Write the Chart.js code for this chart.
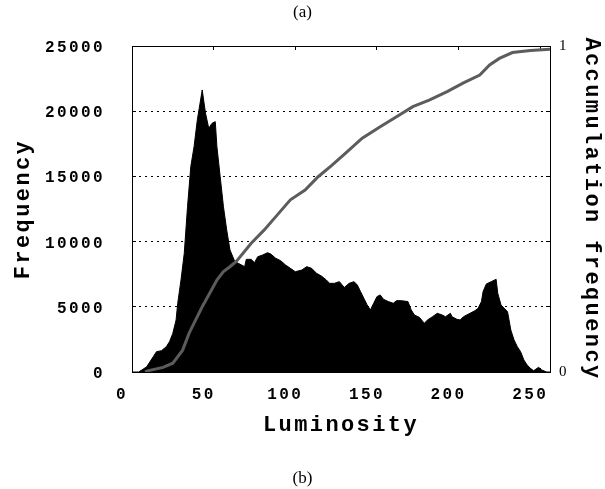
<!DOCTYPE html>
<html>
<head>
<meta charset="utf-8">
<script src="https://cdn.jsdelivr.net/npm/chart.js@4/dist/chart.umd.min.js"></script>
<style>
  html, body { margin: 0; padding: 0; background: #fff; }
  #wrap { position: relative; width: 605px; height: 489px; }
  .caption {
    position: absolute;
    left: 0;
    width: 605px;
    text-align: center;
    font: 17px "Liberation Serif", serif;
    line-height: 20px;
    color: #000;
  }
</style>
</head>
<body>
<div id="wrap">
  <canvas id="chart"></canvas>
  <div class="caption" style="top:2px">(a)</div>
  <div class="caption" style="top:468px">(b)</div>
</div>
<script>
// histogram outline (luminosity -> pixel count)
const luminosity = [0, 4, 6, 9, 13, 15, 18, 21, 23, 25, 27, 28, 30, 32, 34, 36, 38, 40, 42, 43,
  45, 47, 49, 51, 52, 54, 56, 58, 60, 63, 65, 69, 70, 73, 75, 77, 80, 83, 85, 88,
  91, 94, 97, 100, 104, 107, 110, 113, 116, 119, 121, 124, 127, 130, 133, 136, 138, 140, 142, 144,
  146, 148, 150, 152, 154, 157, 160, 162, 165, 169, 171, 173, 176, 179, 181, 184, 187, 190, 192, 195,
  196, 199, 201, 203, 207, 210, 212, 214, 215, 217, 220, 223, 224, 226, 228, 230, 232, 234, 236, 238,
  240, 242, 244, 246, 249, 251, 254, 256];
const frequency = [0, 0, 150, 400, 1170, 1560, 1630, 1940, 2330, 2970, 3990, 5270, 7060, 9100, 12680, 15750, 17280, 19330, 20860, 21630,
  19860, 18690, 19070, 19200, 17280, 14980, 12680, 10890, 9360, 8460, 8340, 8080, 8640, 8640, 8380, 8840, 8970, 9150, 9050, 8720,
  8540, 8210, 7950, 7690, 7820, 8080, 7950, 7570, 7360, 7060, 6800, 6800, 6930, 6480, 6800, 6930, 6670, 6160, 5650, 5140,
  4760, 5270, 5780, 5910, 5580, 5400, 5270, 5470, 5470, 5400, 4760, 4370, 4190, 3740, 3990, 4240, 4500, 4370, 4240, 4500,
  4240, 4040, 3990, 4240, 4500, 4700, 4890, 5400, 6160, 6750, 6930, 7110, 6040, 5140, 4890, 4620, 3220, 2450, 1940, 1560,
  920, 540, 280, 100, 360, 150, 0, 0];

// accumulation curve
const cumLuminosity = [8, 10, 19, 25, 31, 35, 39, 43, 47.5, 52, 56, 60, 64, 73, 81, 89, 97, 106, 114, 122,
  131, 141, 152, 162, 172, 182, 193, 203, 213, 219, 225, 233, 244, 256];
const cumFrequency = [0, 0.004, 0.014, 0.027, 0.067, 0.119, 0.16, 0.2, 0.241, 0.282, 0.308, 0.323, 0.34, 0.395, 0.436, 0.482, 0.528, 0.558, 0.599, 0.632,
  0.672, 0.717, 0.752, 0.783, 0.814, 0.834, 0.86, 0.887, 0.911, 0.942, 0.962, 0.98, 0.986, 0.99];

const xTicks = [0, 50, 100, 150, 200, 250];
const xMax = 256;
const yMax = 25000;
const yStep = 5000;

const MONO = "'Liberation Mono', 'DejaVu Sans Mono', monospace";
const LETTER_SPACING = "2.4px";

function toPoints(xs, ys) {
  return xs.map((x, i) => ({ x, y: ys[i] }));
}

function fixedTicks(scale) {
  scale.ticks = xTicks.map((value) => ({ value }));
}

// bitmap-style fonts in the original are widely spaced
const spacingPlugin = {
  id: "spacing",
  beforeLayout(chart) {
    chart.ctx.letterSpacing = LETTER_SPACING;
  },
  beforeDraw(chart) {
    chart.ctx.letterSpacing = LETTER_SPACING;
  }
};

const tickFont = { family: MONO, size: 16, weight: "bold" };
const titleFont = { family: MONO, size: 22, weight: "bold" };

new Chart(document.querySelector("#chart"), {
  type: "line",
  data: {
    datasets: [
      {
        label: "Accumulation frequency",
        data: toPoints(cumLuminosity, cumFrequency),
        xAxisID: "x",
        yAxisID: "y1",
        borderColor: "#5c5c5c",
        borderWidth: 3,
        pointRadius: 0,
        fill: false,
        order: 1
      },
      {
        label: "Frequency",
        data: toPoints(luminosity, frequency),
        xAxisID: "x",
        yAxisID: "y",
        borderColor: "#000",
        backgroundColor: "#000",
        borderWidth: 1,
        pointRadius: 0,
        fill: "origin",
        order: 2
      }
    ]
  },
  options: {
    responsive: true,
    maintainAspectRatio: false,
    animation: false,
    layout: { padding: 0 },
    plugins: {
      legend: { display: false },
      tooltip: { enabled: false }
    },
    scales: {
      x: {
        type: "linear",
        position: "bottom",
        min: 0,
        max: xMax,
        afterBuildTicks: fixedTicks,
        afterFit: (s) => { s.height = 117; },
        grid: { drawOnChartArea: false, drawTicks: true, tickLength: -4, tickColor: "#000" },
        border: { display: true, color: "#000", width: 1 },
        ticks: { color: "#000", font: tickFont, padding: 17, labelOffset: -10, maxRotation: 0 },
        title: {
          display: true,
          text: "Luminosity",
          color: "#000",
          font: titleFont,
          padding: { top: 0, bottom: 50 }
        }
      },
      x2: {
        type: "linear",
        position: "top",
        min: 0,
        max: xMax,
        afterBuildTicks: fixedTicks,
        afterFit: (s) => { s.height = 46; },
        grid: { drawOnChartArea: false, drawTicks: true, tickLength: -4, tickColor: "#000" },
        border: { display: true, color: "#000", width: 1 },
        ticks: { display: false }
      },
      y: {
        position: "left",
        min: 0,
        max: yMax,
        afterFit: (s) => { s.width = 132; },
        grid: { color: "#000", lineWidth: 1, drawTicks: true, tickLength: -4, tickColor: "#000" },
        border: { display: true, color: "#000", width: 1, dash: [2, 4] },
        ticks: {
          stepSize: yStep,
          color: "#000",
          font: tickFont,
          padding: 31,
          labelOffset: 2,
          callback: (v) => String(v)
        },
        title: {
          display: true,
          text: "Frequency",
          color: "#000",
          font: titleFont,
          padding: { top: 10, bottom: 0 }
        }
      },
      y1: {
        position: "right",
        min: 0,
        max: 1,
        afterFit: (s) => { s.width = 55; },
        grid: { drawOnChartArea: false, drawTicks: true, tickLength: -4, tickColor: "#000" },
        border: { display: true, color: "#000", width: 1 },
        ticks: {
          stepSize: 0.2,
          color: "#000",
          font: { family: "'Liberation Serif', serif", size: 15 },
          padding: 13,
          callback: (v) => (v === 0 || v === 1 ? String(v) : "")
        },
        title: {
          display: true,
          text: "Accumulation frequency",
          color: "#000",
          font: titleFont,
          padding: { top: 0, bottom: 0 }
        }
      }
    }
  },
  plugins: [spacingPlugin]
});
</script>
</body>
</html>
